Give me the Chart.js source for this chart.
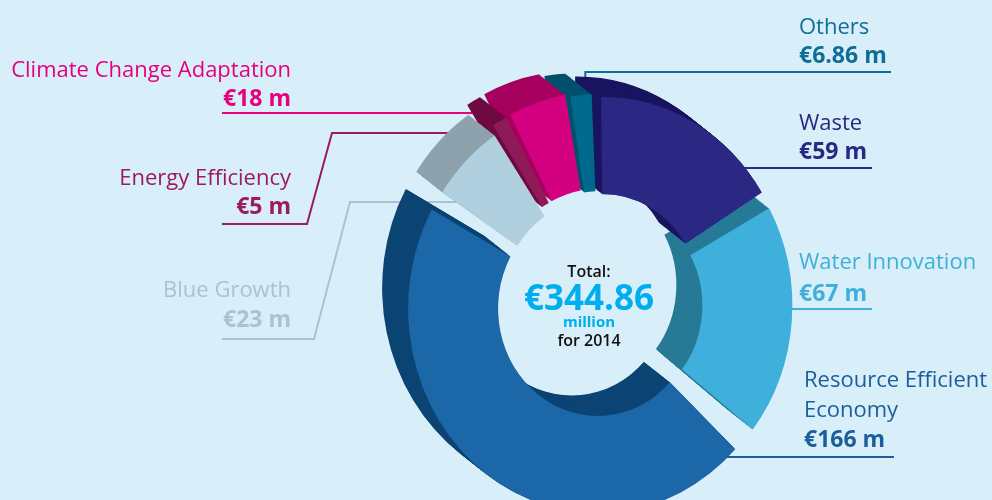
<!DOCTYPE html>
<html>
<head>
<meta charset="utf-8">
<script src="https://cdn.jsdelivr.net/npm/chart.js@4.4.1/dist/chart.umd.min.js"></script>
<style>
  html, body { margin: 0; padding: 0; background: #d8eef9; overflow: hidden; }
  #wrap { width: 992px; height: 500px; position: relative; overflow: hidden; }
</style>
</head>
<body>
<div id="wrap"><canvas id="chart" width="992" height="540"></canvas></div>
<script>
// data, clockwise from the top
const categories = ['Waste', 'Water Innovation', 'Resource Efficient Economy', 'Blue Growth', 'Energy Efficiency', 'Climate Change Adaptation', 'Others'];
const values = [59, 67, 166, 23, 5, 18, 6.86];
const valueLabels = ['€59 m', '€67 m', '€166 m', '€23 m', '€5 m', '€18 m', '€6.86 m'];
const totalLines = ['Total:', '€344.86', 'million', 'for 2014'];

const faceColors = ['#2a2882', '#3fb0dc', '#1b67a8', '#b0d0e0', '#8e1a5a', '#d3017f', '#006a8e'];
const sideColors = ['#1a1560', '#267a96', '#0c4474', '#8da2ad', '#6f0a40', '#a6005f', '#00516d'];
const textColors = ['#2a2882', '#3fb0dc', '#1b5e9c', '#a9c3d1', '#9b1b5e', '#e6007e', '#0e6e96'];
const offsets = [26, 24, 16, 8, 24, 28, 20];

// label placement (layout only)
const labelLayout = [
  { align: 'left',  x: 799, names: ['Waste'], nameY: [130], valueY: 159, pts: [[872, 168]], end: 'x' },
  { align: 'left',  x: 799, names: ['Water Innovation'], nameY: [269], valueY: 301, pts: [[872, 309]], end: 'x' },
  { align: 'left',  x: 804, names: ['Resource Efficient', 'Economy'], nameY: [387, 417], valueY: 447, pts: [[894, 457]], end: 'x' },
  { align: 'right', x: 291, names: ['Blue Growth'], nameY: [297], valueY: 327, pts: [[222, 339], [314, 339], [350, 202]], end: 'x' },
  { align: 'right', x: 291, names: ['Energy Efficiency'], nameY: [185], valueY: 214, pts: [[222, 224], [307, 224], [332, 133]], end: 'x' },
  { align: 'right', x: 291, names: ['Climate Change Adaptation'], nameY: [77], valueY: 106, pts: [[222, 113]], end: 'x' },
  { align: 'left',  x: 799, names: ['Others'], nameY: [34], valueY: 63, pts: [[891, 72]], end: 'down' }
];

const DEPTH_X = -26;
const DEPTH_Y = -19;
const DEPTH_STEPS = 26;
const SCALE_Y = 1.08; // ring is seen slightly tilted, taller than wide
const FONT = '"Open Sans", "Noto Sans", sans-serif';

function drawLeaders(ctx, arcs) {
  arcs.forEach((arc, i) => {
    const lay = labelLayout[i];
    const tp = arc.tooltipPosition();
    const ty = arc.y + (tp.y - arc.y) * SCALE_Y;
    const pts = lay.pts.slice();
    const last = pts[pts.length - 1];
    pts.push([tp.x, last[1]]);
    if (lay.end === 'down') pts.push([tp.x, ty]);
    ctx.save();
    ctx.strokeStyle = textColors[i];
    ctx.lineWidth = 2;
    ctx.beginPath();
    ctx.moveTo(pts[0][0], pts[0][1]);
    for (let k = 1; k < pts.length; k++) ctx.lineTo(pts[k][0], pts[k][1]);
    ctx.stroke();
    ctx.restore();
  });
}

const depthPlugin = {
  id: 'depth',
  beforeDatasetsDraw(chart) {
    const ctx = chart.ctx;
    const arcs = chart.getDatasetMeta(0).data;
    drawLeaders(ctx, arcs);
    const cx = arcs[0].x;
    const cy = arcs[0].y;
    ctx.save();
    ctx.translate(cx, cy);
    ctx.scale(1, SCALE_Y);
    ctx.translate(-cx, -cy);
    // extrude every slice towards the upper left, back to front
    for (let s = DEPTH_STEPS; s >= 1; s--) {
      arcs.forEach((arc, i) => {
        const ghost = Object.create(arc);
        ghost.options = Object.assign(Object.create(arc.options), { backgroundColor: sideColors[i], borderWidth: 0 });
        ctx.save();
        ctx.translate(DEPTH_X * s / DEPTH_STEPS, DEPTH_Y * s / DEPTH_STEPS);
        ghost.draw(ctx);
        ctx.restore();
      });
    }
    // the transform stays on for the front faces, restored after
  },
  afterDatasetsDraw(chart) {
    const ctx = chart.ctx;
    ctx.restore();
    const arcs = chart.getDatasetMeta(0).data;
    ctx.save();
    ctx.textBaseline = 'alphabetic';
    arcs.forEach((arc, i) => {
      const lay = labelLayout[i];
      ctx.textAlign = lay.align;
      ctx.fillStyle = textColors[i];
      ctx.font = '22px ' + FONT;
      lay.names.forEach((n, k) => ctx.fillText(n, lay.x, lay.nameY[k]));
      ctx.font = 'bold 23px ' + FONT;
      ctx.fillText(valueLabels[i], lay.x, lay.valueY);
    });

    // centre text
    const cx = arcs[0].x - 11;
    const cy = arcs[0].y;
    ctx.textAlign = 'center';
    ctx.fillStyle = '#111111';
    ctx.font = '600 16px ' + FONT;
    ctx.fillText(totalLines[0], cx, cy - 28);
    ctx.fillStyle = '#00aeef';
    ctx.font = 'bold 35px ' + FONT;
    ctx.fillText(totalLines[1], cx, cy + 5);
    ctx.font = 'bold 15px ' + FONT;
    ctx.fillText(totalLines[2], cx, cy + 22);
    ctx.fillStyle = '#111111';
    ctx.font = '600 16px ' + FONT;
    ctx.fillText(totalLines[3], cx, cy + 41);
    ctx.restore();
  }
};

new Chart(document.getElementById('chart'), {
  type: 'doughnut',
  data: {
    labels: categories,
    datasets: [{
      data: values,
      backgroundColor: faceColors,
      borderWidth: 0,
      offset: offsets,
      spacing: 12
    }]
  },
  options: {
    responsive: false,
    animation: false,
    rotation: -2,
    radius: 180,
    cutout: '50%',
    layout: { padding: { left: 208, right: 0, top: 70, bottom: 0 } },
    plugins: {
      legend: { display: false },
      tooltip: { enabled: false }
    },
    events: []
  },
  plugins: [depthPlugin]
});
</script>
</body>
</html>
